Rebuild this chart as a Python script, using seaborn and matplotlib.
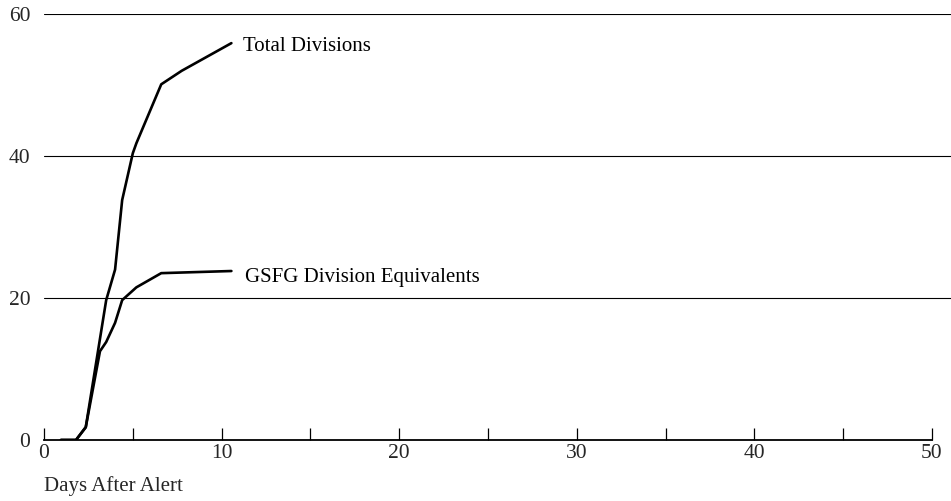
import numpy as np
import pandas as pd
import matplotlib
matplotlib.use("Agg")
import matplotlib.pyplot as plt
import seaborn as sns

# ── Data ──────────────────────────────────────────────────────────────────────
total_days = [0.95, 1.8, 2.35, 3.5, 4.0, 4.4, 5.0, 5.2, 6.6, 7.75, 10.55]
total_divs = [0, 0, 1.8, 19.7, 24.0, 33.8, 40.4, 41.8, 50.1, 52.0, 55.9]

gsfg_days = [0.95, 1.8, 2.35, 3.15, 3.5, 4.0, 4.4, 5.2, 6.6, 10.55]
gsfg_divs = [0, 0, 1.8, 12.5, 13.8, 16.5, 19.7, 21.5, 23.5, 23.8]

series_names = ["Total Divisions", "GSFG Division Equivalents"]
x_ticks = [0, 10, 20, 30, 40, 50]
x_minor = [5, 15, 25, 35, 45]
y_ticks = [0, 20, 40, 60]

# ── Style ─────────────────────────────────────────────────────────────────────
sns.set_style("white")
plt.rcParams["font.family"] = ["Liberation Serif", "DejaVu Serif"]
plt.rcParams["font.size"] = 15.5

df = pd.concat([
    pd.DataFrame({"day": total_days, "divs": total_divs, "series": series_names[0]}),
    pd.DataFrame({"day": gsfg_days, "divs": gsfg_divs, "series": series_names[1]}),
])

fig = plt.figure(figsize=(9.51, 5.01), dpi=100)
ax = fig.add_axes([0.0463, 0.1218, 0.9537, 0.8502])

sns.lineplot(data=df, x="day", y="divs", hue="series",
             palette=["black", "black"], linewidth=1.9,
             legend=False, ax=ax, estimator=None, sort=False)

# horizontal rules
for y in y_ticks[1:]:
    ax.axhline(y, color="black", linewidth=0.8, zorder=0)

ax.set_xlim(0, 51.07)
ax.set_ylim(0, 60)

for s in ["top", "right", "left"]:
    ax.spines[s].set_visible(False)
ax.spines["bottom"].set_bounds(0, 50)
ax.spines["bottom"].set_linewidth(1.3)
ax.spines["bottom"].set_color("black")

ax.set_xticks(x_ticks)
ax.set_xticks(x_minor, minor=True)
ax.tick_params(axis="x", which="both", bottom=True, direction="in", length=9,
               width=0.9, color="black", pad=3, labelsize=15.5)
ax.set_yticks(y_ticks)
ax.tick_params(axis="y", which="both", left=False, length=0, pad=10, labelsize=15.5)
ax.set_xlabel("Days After Alert", loc="left", fontsize=15, labelpad=9)
ax.set_ylabel("")

# inline series labels
ax.text(11.2, total_divs[-1] - 0.5, series_names[0], fontsize=15,
        va="center", ha="left", color="black")
ax.text(11.3, gsfg_divs[-1] - 0.9, series_names[1], fontsize=15,
        va="center", ha="left", color="black")

fig.savefig("out.png", dpi=100)
